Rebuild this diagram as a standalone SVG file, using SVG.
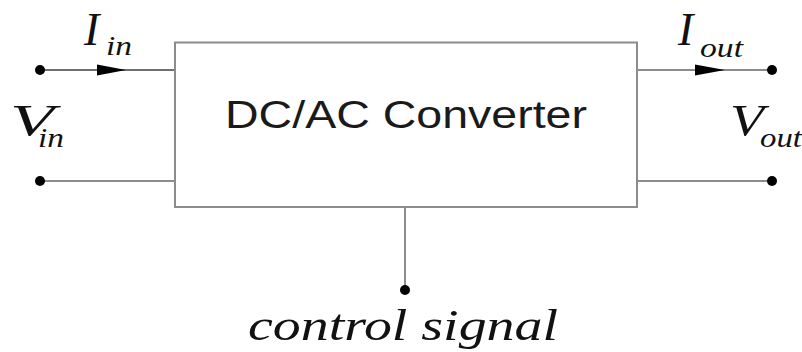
<svg xmlns="http://www.w3.org/2000/svg" width="802" height="352" viewBox="0 0 802 352">
<style>
.wire{stroke:#8c8c8c;stroke-width:2;fill:none}
.box{stroke:#8c8c8c;stroke-width:2;fill:#fff}
.dot{fill:#000}
.arr{fill:#000}
.lbl{font-family:"Liberation Serif","Times New Roman",serif;font-style:italic;fill:#111}
.title{font-family:"Liberation Sans",Arial,sans-serif;fill:#1a1a1a}
</style>
<rect width="802" height="352" fill="#fff"/>
<g id="connectors">
<line class="wire" x1="40" y1="70" x2="175" y2="70" style="stroke:#707070"/>
<line class="wire" x1="40" y1="181" x2="175" y2="181"/>
<line class="wire" x1="637" y1="70" x2="772" y2="70"/>
<line class="wire" x1="637" y1="181" x2="772" y2="181"/>
<line class="wire" x1="405" y1="207" x2="405" y2="290"/>
<polygon class="arr" points="97,64.5 126,70 97,75.5"/>
<polygon class="arr" points="695,64.5 725,70 695,75.5"/>
</g>
<g id="converter">
<rect class="box" x="175" y="42.5" width="462" height="164.5"/>
<text class="title" x="225" y="128" font-size="39" textLength="362" lengthAdjust="spacingAndGlyphs">DC/AC Converter</text>
</g>
<g id="input">
<circle class="dot" cx="40" cy="70" r="5"/>
<circle class="dot" cx="40" cy="181" r="5"/>
<text class="lbl" x="84" y="45" font-size="46">I</text>
<text class="lbl" x="106" y="55" font-size="28" textLength="26" lengthAdjust="spacingAndGlyphs">in</text>
<text class="lbl" x="10" y="135" font-size="44" textLength="44" lengthAdjust="spacingAndGlyphs">V</text>
<text class="lbl" x="38" y="147" font-size="28" textLength="26" lengthAdjust="spacingAndGlyphs">in</text>
</g>
<g id="output">
<circle class="dot" cx="772" cy="70" r="5"/>
<circle class="dot" cx="772" cy="181" r="5"/>
<text class="lbl" x="678" y="45" font-size="46">I</text>
<text class="lbl" x="700" y="57" font-size="28" textLength="43" lengthAdjust="spacingAndGlyphs">out</text>
<text class="lbl" x="730" y="135" font-size="44" textLength="34" lengthAdjust="spacingAndGlyphs">V</text>
<text class="lbl" x="760" y="147" font-size="28" textLength="42" lengthAdjust="spacingAndGlyphs">out</text>
</g>
<g id="control">
<circle class="dot" cx="405" cy="290" r="5"/>
<text class="lbl" x="248" y="340" font-size="44" textLength="310" lengthAdjust="spacingAndGlyphs">control signal</text>
</g>
</svg>
